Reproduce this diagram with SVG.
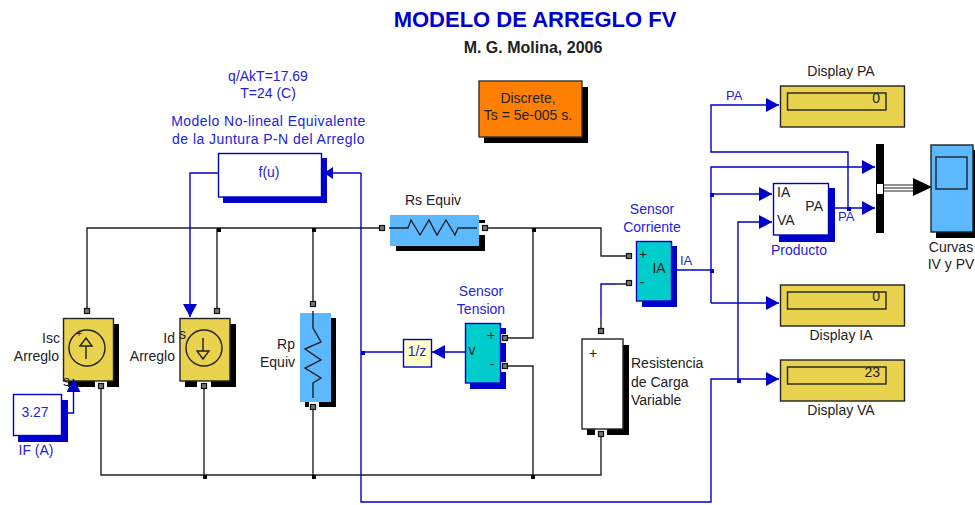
<svg xmlns="http://www.w3.org/2000/svg" width="975" height="505" viewBox="0 0 975 505">
<defs>
<marker id="ah" markerUnits="userSpaceOnUse" markerWidth="14" markerHeight="14" refX="13" refY="7" orient="auto"><path d="M0,0L13,7L0,14z" fill="#0000cc"/></marker>
<marker id="as" markerUnits="userSpaceOnUse" markerWidth="10" markerHeight="12" refX="9" refY="6" orient="auto"><path d="M0,0L9,6L0,12z" fill="#0000cc"/></marker>
</defs>
<style>
text{font-family:"Liberation Sans",Arial,sans-serif;font-size:14px;fill:#222}
.b{fill:#2222dd}
.m{text-anchor:middle}
.e{text-anchor:end}
.k{fill:none;stroke:#222;stroke-width:1.4}
.u{fill:none;stroke:#0000cc;stroke-width:1.4}
.bk{fill:#000}
.bl{fill:#0000cc}
.y{fill:#e8d24e;stroke:#222;stroke-width:1.4}
.c{fill:#00cccc;stroke:#0000cc;stroke-width:1.4}
.s{fill:#5cb8ff}
.w{fill:#fff;stroke:#0000cc;stroke-width:1.4}
.g{fill:none;stroke:#222;stroke-width:1.4}
.p{fill:#777;stroke:#111;stroke-width:1.2}
.n{fill:#fff}
.j{fill:#000}
.ju{fill:#0000cc}
.sm{font-size:13px}
.ls{letter-spacing:.45px}
</style>
<text x="535" y="27" class="m" style="font-size:22px;font-weight:bold;fill:#0000cc">MODELO DE ARREGLO FV</text>
<text x="533" y="53" class="m" style="font-size:16px;font-weight:bold;fill:#222">M. G. Molina, 2006</text>
<g id="solver"><rect x="484" y="87" width="104" height="56" class="bk"/><rect x="479" y="81" width="103" height="56" fill="#ff8000" stroke="#333" stroke-width="1.4"/>
<text x="528" y="103" class="m">Discrete,</text><text x="528" y="120" class="m">Ts = 5e-005 s.</text></g>
<g id="annotation"><text x="268" y="81" class="m b">q/AkT=17.69</text><text x="268" y="98" class="m b">T=24 (C)</text></g>
<g id="fu"><rect x="223" y="158" width="104" height="45" class="bl"/><rect x="218.500" y="153.500" width="103" height="43.500" class="w"/><text x="269" y="177" class="m b">f(u)</text>
<text x="268.500" y="126" class="m b ls">Modelo No-lineal Equivalente</text><text x="268.500" y="144" class="m b ls">de la Juntura P-N del Arreglo</text></g>
<g id="isc"><rect x="68" y="324" width="51" height="63" class="bk"/><rect x="95" y="381" width="12" height="7" class="n"/><rect x="63.500" y="318.500" width="50" height="62.500" class="y"/>
<circle cx="87" cy="348" r="18" class="k"/><path class="k" d="M86,359V346M80,346L86,338L92,346z"/>
<text x="60" y="343" class="e">Isc</text><text x="59" y="361" class="e">Arreglo</text><text x="63" y="386">s</text><text x="76" y="337" style="font-size:10px">+</text></g>
<g id="id"><rect x="185" y="324" width="51" height="63" class="bk"/><rect x="197" y="381" width="14" height="7" class="n"/><rect x="180" y="318.500" width="50" height="62.500" class="y"/>
<circle cx="204" cy="348" r="18" class="k"/><path class="k" d="M203,338V351M197,351H209L203,359z"/>
<text x="175" y="343" class="e">Id</text><text x="175" y="361" class="e">Arreglo</text><text x="179" y="339">s</text></g>
<g id="rp"><rect x="305" y="318" width="31" height="89" class="bk"/><rect x="309" y="402" width="10" height="6" class="n"/><rect x="300" y="313" width="31" height="89" class="s"/>
<path class="k" d="M313,311V328L321,342L305,349L321,360L305,368L321,378L313,383V398"/>
<text x="295" y="349" class="e">Rp</text><text x="295" y="367" class="e">Equiv</text></g>
<g id="rs"><rect x="396" y="220" width="89" height="31" class="bk"/><rect x="479" y="223" width="7" height="12" class="n"/><rect x="390" y="215" width="89" height="31" class="s"/>
<path class="k" d="M389,228H408L411,220L420,235L429,220L437,235L446,220L455,235L458,228H477"/>
<text x="433" y="205" class="m">Rs Equiv</text></g>
<g id="sv"><rect x="470" y="328" width="36" height="61" class="bl"/><rect x="500" y="334" width="7" height="9" class="n"/><rect x="500" y="362" width="7" height="10" class="n"/><rect x="465.500" y="323.500" width="35" height="59.500" class="c"/>
<text x="472" y="355" class="m">v</text><text x="491" y="340" class="m">+</text><text x="492" y="369" class="m">-</text><text x="481" y="296" class="m b">Sensor</text><text x="481" y="314" class="m b">Tension</text></g>
<g id="si"><rect x="642" y="246" width="35" height="61" class="bl"/><rect x="636.500" y="241.500" width="35" height="59.500" class="c"/>
<text x="643" y="259" class="m">+</text><text x="642" y="287" class="m">-</text><text x="659" y="273" class="m">IA</text><text x="652" y="214" class="m b">Sensor</text><text x="652" y="232" class="m b">Corriente</text></g>
<text x="680" y="265" class="b sm">IA</text>
<g id="load"><rect x="587" y="345" width="42" height="90" class="bk"/><rect x="595" y="429" width="12" height="7" class="n"/><rect x="582" y="339" width="41" height="90" fill="#fff" stroke="#222" stroke-width="1.4"/>
<text x="593" y="358" class="m">+</text><text x="631" y="368">Resistencia</text><text x="631" y="387">de Carga</text><text x="631" y="405">Variable</text></g>
<g id="z"><rect x="403.500" y="339.500" width="28" height="27.500" fill="#ffffc8" stroke="#0000cc" stroke-width="1.4"/><text x="417" y="356" class="m b">1/z</text></g>
<g id="if"><rect x="18" y="400" width="50" height="42" class="bl"/><rect x="13.500" y="394.500" width="48" height="41" class="w"/><text x="35" y="417" class="m b">3.27</text><text x="36" y="455" class="m b">IF (A)</text></g>
<g id="prod"><rect x="779" y="188" width="56" height="54" class="bl"/><rect x="773.500" y="183.500" width="55" height="51.500" class="w"/>
<text x="777" y="197">IA</text><text x="777" y="225">VA</text><text x="823" y="211" class="e">PA</text><text x="799" y="255" class="m b">Producto</text></g>
<text x="726" y="100" class="b sm">PA</text><text x="838" y="221" class="b sm">PA</text>
<g id="dpa"><rect x="780.500" y="86" width="124" height="41" class="y"/><rect x="787.500" y="93" width="98.500" height="17" class="g"/><text x="880" y="103" class="e">0</text><text x="841" y="76" class="m">Display PA</text></g>
<g id="dia"><rect x="780.500" y="285" width="124" height="41" class="y"/><rect x="787.500" y="292" width="98.500" height="17" class="g"/><text x="880" y="301" class="e">0</text><text x="841" y="340" class="m">Display IA</text></g>
<g id="dva"><rect x="780.500" y="360" width="124" height="41" class="y"/><rect x="787.500" y="367" width="98.500" height="17" class="g"/><text x="880" y="377" class="e">23</text><text x="841" y="415" class="m">Display VA</text></g>
<g id="mux"><rect x="876" y="144" width="8" height="89" class="bk"/><rect x="877" y="184" width="6" height="10" class="n"/></g>
<g id="scope"><rect x="936" y="150" width="42" height="88" class="bk"/><rect x="931" y="145" width="42" height="87" fill="#5cb8ff" stroke="#222" stroke-width="1.4"/><rect x="936" y="157" width="31" height="32" fill="#5cb8ff" stroke="#222" stroke-width="1.4"/><text x="951" y="252" class="m">Curvas</text><text x="951" y="269" class="m">IV y PV</text></g>
<g id="connectors">
<path class="k" d="M87,311V228H382M485,228H601V256H629M533,228V338H505M505,366H533V475M601,331V317M616,284H629"/>
<path class="k" d="M217,311V228M313,304V228M101,386V475H601V434M204,386V475M313,407V475"/>
<path class="u" d="M616,284H601V317"/>
<path class="u" d="M361,173V502H711V379H779" marker-end="url(#ah)"/>
<path class="u" d="M218,173H190V317" marker-end="url(#ah)"/>
<path class="u" d="M361,173H324" marker-end="url(#as)"/>
<path class="u" d="M403,352H361"/>
<path class="u" d="M465,352H432" marker-end="url(#ah)"/>
<path class="u" d="M62,413H73.500V379" marker-end="url(#ah)"/>
<path class="u" d="M672,270H711"/>
<path class="u" d="M848,208V152H711V105H779" marker-end="url(#ah)"/>
<path class="u" d="M711,303H779" marker-end="url(#ah)"/>
<path class="u" d="M711,303V167H875" marker-end="url(#ah)"/>
<path class="u" d="M711,194H772" marker-end="url(#ah)"/>
<path class="u" d="M738,379V222H772" marker-end="url(#ah)"/>
<path class="u" d="M829,208H875" marker-end="url(#ah)"/>
<path d="M884,185H914M884,188H914M884,191H914" stroke="#222" stroke-width="1.2" fill="none"/>
<path class="bk" d="M913,178L932,187L913,196z"/>
<rect class="j" x="532" y="228" width="4" height="4"/><rect class="j" x="312" y="228" width="4" height="4"/><rect class="j" x="217" y="228" width="4" height="4"/>
<rect class="j" x="203" y="475" width="4" height="4"/><rect class="j" x="312" y="475" width="4" height="4"/><rect class="j" x="531" y="475" width="4" height="4"/>
<rect class="ju" x="361" y="351" width="4" height="4"/><rect class="ju" x="710" y="269" width="4" height="4"/><rect class="ju" x="710" y="193" width="4" height="4"/><rect class="ju" x="737" y="379" width="4" height="4"/><rect class="ju" x="847" y="207" width="4" height="4"/>
</g>
<g id="ports" class="p">
<rect x="84.500" y="308.500" width="5" height="5"/><rect x="214.500" y="308.500" width="5" height="5"/><rect x="98.500" y="383.500" width="5" height="5"/><rect x="201.500" y="383.500" width="5" height="5"/>
<rect x="310.500" y="301.500" width="5" height="5"/><rect x="310.500" y="404.500" width="5" height="5"/><rect x="379.500" y="225.500" width="5" height="5"/><rect x="482.500" y="225.500" width="5" height="5"/>
<rect x="502.500" y="335.500" width="5" height="5"/><rect x="502.500" y="363.500" width="5" height="5"/><rect x="626.500" y="253.500" width="5" height="5"/><rect x="626.500" y="280.500" width="5" height="5"/><rect x="598.500" y="328.500" width="5" height="5"/><rect x="598.500" y="431.500" width="5" height="5"/>
</g>
</svg>
